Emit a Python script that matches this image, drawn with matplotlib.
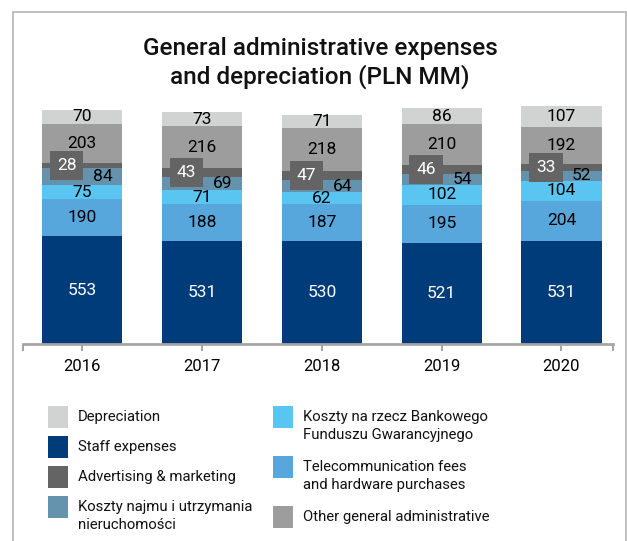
import matplotlib
matplotlib.use("Agg")
import matplotlib.pyplot as plt
from matplotlib.patches import Rectangle
import numpy as np

years = ["2016", "2017", "2018", "2019", "2020"]

staff = [553, 531, 530, 521, 531]
telecom = [190, 188, 187, 195, 204]
bfg = [75, 71, 62, 102, 104]
rent = [84, 69, 64, 54, 52]
advertising = [28, 43, 47, 46, 33]
other_admin = [203, 216, 218, 210, 192]
depreciation = [70, 73, 71, 86, 107]

series_names = [
    "Staff expenses",
    "Telecommunication fees\nand hardware purchases",
    "Koszty na rzecz Bankowego\nFunduszu Gwarancyjnego",
    "Koszty najmu i utrzymania\nnieruchomości",
    "Advertising & marketing",
    "Other general administrative",
    "Depreciation",
]
series_values = [staff, telecom, bfg, rent, advertising, other_admin, depreciation]
series_colors = ["#003b7a", "#57a7dd", "#5bc5f2", "#6593ae", "#646464", "#9d9d9d", "#d1d2d2"]
label_colors = ["white", "black", "black", "black", "white", "black", "black"]

legend_order = [6, 0, 4, 3, 2, 1, 5]

NUM_FONT = ["Roboto", "DejaVu Sans"]
TXT_FONT = ["Roboto", "DejaVu Sans"]


def main():
    W, H = 627, 541
    fig = plt.figure(figsize=(W / 100, H / 100), dpi=100)

    # grey frame round the chart
    fig.add_artist(Rectangle((13 / W, -0.05), 613 / W, 1 - 12 / H + 0.05,
                             transform=fig.transFigure, fill=False,
                             edgecolor="#b4b4b4", linewidth=1.2))

    fig.text(320 / W, 1 - 63 / H, "General administrative expenses\nand depreciation (PLN MM)",
             ha="center", va="center", fontsize=17.5, family=["Roboto", "DejaVu Sans"],
             weight="medium", linespacing=1.2, color="#111111")

    ax = fig.add_axes([23 / W, 197 / H, 590 / W, 253 / H])
    x = np.arange(len(years))
    bottom = np.zeros(len(years))
    for i, vals in enumerate(series_values):
        vals = np.array(vals, dtype=float)
        ax.bar(x, vals, width=0.67, bottom=bottom, color=series_colors[i], linewidth=0)
        mids = bottom + vals / 2
        for j in range(len(years)):
            if i == 3:
                ax.text(x[j] + 0.17, mids[j], str(int(vals[j])), ha="center", va="center",
                        fontsize=12.5, family=NUM_FONT, color=label_colors[i])
            elif i == 4:
                ax.text(x[j] - 0.13, mids[j], str(int(vals[j])), ha="center", va="center",
                        fontsize=12.5, family=NUM_FONT, color=label_colors[i],
                        bbox=dict(boxstyle="square,pad=0.4", facecolor=series_colors[i],
                                  edgecolor="none"))
            else:
                ax.text(x[j], mids[j], str(int(vals[j])), ha="center", va="center",
                        fontsize=12.5, family=NUM_FONT, color=label_colors[i])
        bottom += vals

    ax.set_xlim(-0.495, 4.43)
    ax.set_ylim(0, 1300)
    for side in ["top", "left", "right"]:
        ax.spines[side].set_visible(False)
    ax.spines["bottom"].set_color("#a6a6a6")
    ax.spines["bottom"].set_linewidth(2)
    ax.set_yticks([])
    ax.set_xticks(x)
    ax.set_xticklabels(years, fontsize=12, family=TXT_FONT)
    ax.set_xticks([-0.495, 4.43], minor=True)
    ax.tick_params(axis="x", which="both", direction="out", length=5, width=1.5,
                   color="#a6a6a6", pad=6)

    # legend drawn by hand, two columns
    rows = [(48, 417), (48, 447), (48, 477), (48, 507), (273, 417), (273, 467), (273, 517)]
    for k, idx in enumerate(legend_order):
        px, py = rows[k]
        fig.add_artist(Rectangle((px / W, 1 - (py + 11) / H), 20 / W, 22 / H,
                                 transform=fig.transFigure, facecolor=series_colors[idx],
                                 edgecolor="none"))
        fig.text((px + 30) / W, 1 - (py - 7) / H, series_names[idx], ha="left", va="top",
                 fontsize=10.7, family=TXT_FONT, linespacing=1.35, color="#111111")

    fig.savefig("out.png", dpi=100)


if __name__ == "__main__":
    main()
